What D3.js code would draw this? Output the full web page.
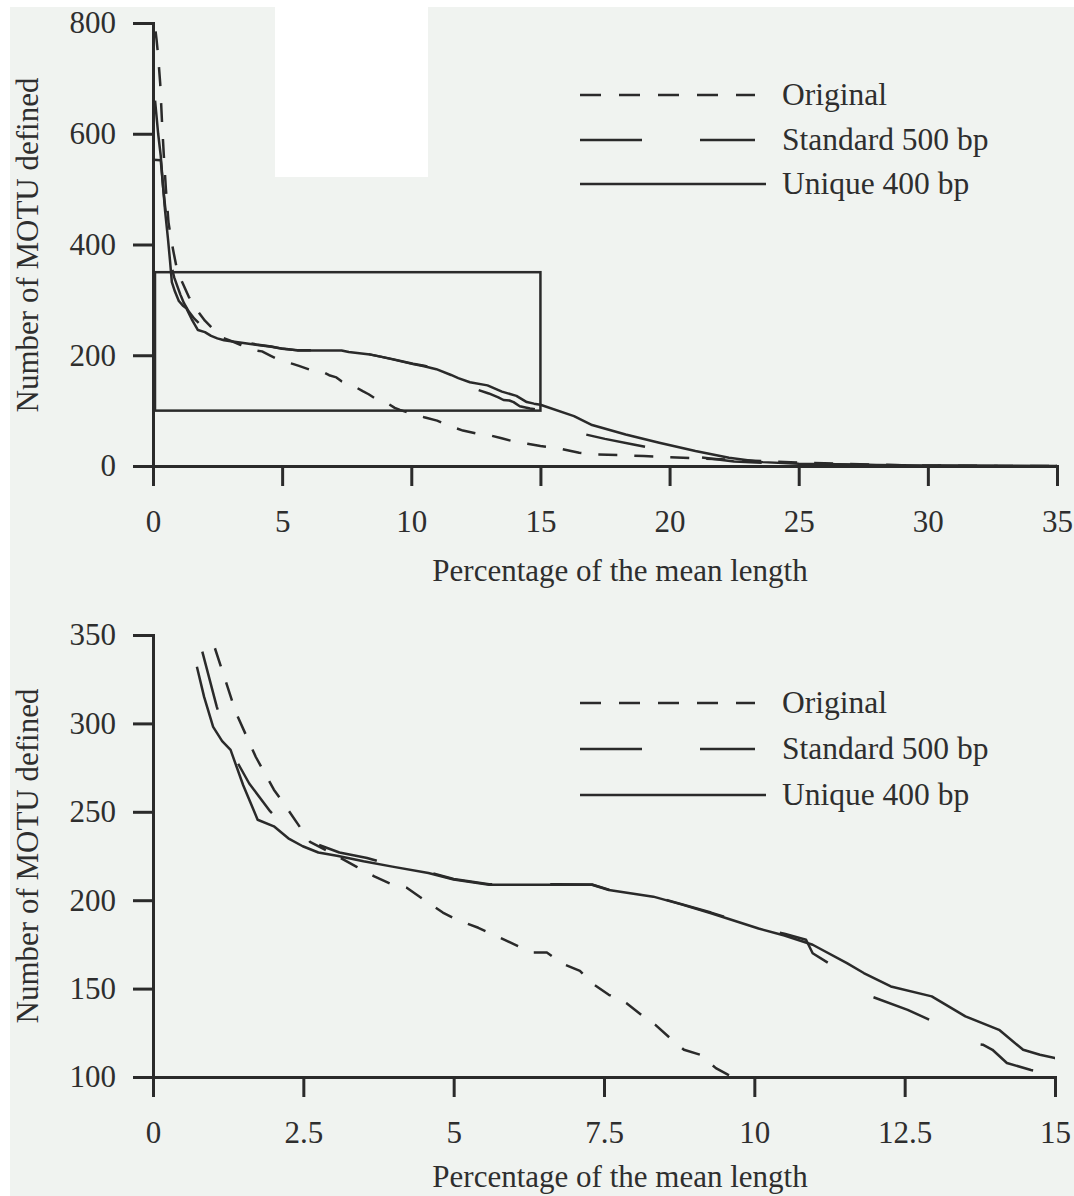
<!DOCTYPE html>
<html lang="en">
<head>
<meta charset="UTF-8" />
<title>MOTU</title>
<style>
  body { margin: 0; background: #fff; }
  svg text { font-family: "Liberation Serif", "Times New Roman", serif; fill: #2e2e2e; }
</style>
</head>
<body>
<div class="chart"></div>
<script src="https://d3js.org/d3.v7.min.js"></script>
<script>
// data: [percentage of the mean length, number of MOTU]
const seriesNames = ['Original', 'Standard 500 bp', 'Unique 400 bp']

const originalPts = [
  [0.1, 785], [0.14, 769], [0.2, 740], [0.28, 690], [0.35, 620], [0.42, 560], [0.5, 500],
  [0.6, 440], [0.7, 410], [0.8, 385], [0.9, 362], [1.03, 342.5], [1.15, 330], [1.38, 306],
  [1.71, 281], [2.01, 262.5], [2.19, 254], [2.61, 233], [2.97, 226.7], [3.38, 219],
  [3.68, 213.5], [3.98, 208.8], [4.22, 207], [4.58, 198.5], [4.82, 193], [5.05, 189],
  [5.41, 184.4], [5.65, 180.7], [6.07, 174], [6.31, 170.4], [6.55, 170.4], [6.82, 164],
  [7.1, 160], [7.3, 153], [7.58, 146.5], [7.87, 141.8], [8.12, 135.2], [8.35, 129.6],
  [8.6, 122], [8.83, 115.4], [9.1, 112.6], [9.36, 105], [9.56, 101.3], [9.9, 96],
  [10.5, 88], [11, 82], [11.5, 72], [12, 64], [12.5, 59], [13, 56], [13.5, 50], [14, 44],
  [14.5, 40], [15, 36], [15.7, 32], [16.5, 24], [17.1, 21], [18, 20], [19, 18], [20, 16],
  [21, 14], [22, 12], [23, 10], [24, 8], [25, 6], [26, 5], [27, 3.5], [28, 2.5],
  [29, 1.5], [30, 1], [31, 0.5], [33, 0], [35, 0]
]

const standardPts = [
  [0.0, 553], [0.3, 552], [0.4, 500], [0.5, 455], [0.62, 400], [0.72, 360], [0.82, 340.6],
  [1.06, 309.5], [1.2, 294], [1.38, 279.4], [1.6, 266], [1.95, 250.2], [2.3, 238],
  [2.67, 232.4], [3.1, 227], [3.56, 223.9], [4.0, 219.5], [4.58, 215.8], [5.0, 212],
  [5.59, 209], [6.72, 209], [7.3, 208.9], [7.58, 206], [8.32, 202.3], [9.28, 193],
  [10.07, 184.5], [10.5, 181], [10.86, 177.6], [10.97, 170], [11.3, 163], [11.7, 153],
  [11.87, 146.5], [12.55, 138], [13.0, 131], [13.37, 123.9], [13.57, 119.2], [13.8, 118.3],
  [13.96, 115.4], [14.2, 107.9], [14.6, 104], [15.0, 101], [16.46, 60], [17.5, 49],
  [18.6, 39], [20.8, 18], [22.5, 8], [24, 5], [26, 3], [28, 1.5], [30, 0.5], [32, 0], [35, 0]
]

const uniquePts = [
  [0.08, 660], [0.12, 640], [0.2, 600], [0.3, 560], [0.38, 510], [0.47, 460], [0.58, 410],
  [0.66, 370], [0.73, 332], [0.85, 315], [1.0, 298], [1.15, 290], [1.29, 285], [1.5, 265],
  [1.74, 245.5], [2.01, 241.8], [2.25, 235], [2.49, 230.5], [2.75, 227], [3.08, 225],
  [3.5, 222], [3.98, 219], [4.58, 215.4], [5.0, 211.7], [5.59, 208.8], [6.2, 208.8],
  [6.72, 208.8], [7.3, 208.7], [7.58, 205.8], [8.32, 202], [8.8, 197.5], [9.28, 192.6],
  [10.07, 184], [10.5, 180], [10.97, 174.8], [11.54, 164.4], [11.82, 158.8], [12.27, 151.2],
  [12.95, 145.6], [13.51, 134.3], [14.07, 126.7], [14.47, 115.4], [14.75, 112.6],
  [15.0, 110.7], [16.3, 90], [17, 74], [18.3, 57], [19.6, 42], [21, 27], [22.3, 15],
  [23.6, 7], [25, 4], [26.5, 3], [28, 2], [30, 1], [33, 0.3], [35, 0]
]

// first x value of each series plotted in the lower (zoomed) panel
const zoomStart = [1.03, 0.82, 0.73]

const topXTicks = [0, 5, 10, 15, 20, 25, 30, 35]
const topYTicks = [0, 200, 400, 600, 800]
const bottomXTicks = [0, 2.5, 5, 7.5, 10, 12.5, 15]
const bottomYTicks = [100, 150, 200, 250, 300, 350]

// the area of the upper panel shown in the lower one
const zoomBoxX = [0, 15]
const zoomBoxY = [100, 350]

const allSeries = [originalPts, standardPts, uniquePts]
const dashes = ['19,17', '60,58', null]
const ink = '#2a2a2a'

const svg = d3.select('.chart')
  .append('svg')
  .attr('width', 1074)
  .attr('height', 1196)

// scan background + white patch
svg.append('rect').attr('x', 10).attr('y', 7).attr('width', 1064).attr('height', 1189).attr('fill', '#f0f3f0')
svg.append('rect').attr('x', 275).attr('y', 0).attr('width', 153).attr('height', 177).attr('fill', '#fff')

const panels = [
  {
    id: 'top', xDomain: [0, 35], xRange: [153, 1057], yDomain: [0, 800], yRange: [466, 23],
    xTicks: topXTicks, yTicks: topYTicks, keep: () => true,
    legendY: [95, 140, 184], titleX: 620, titleY: 581, yTitleY: 245
  },
  {
    id: 'bottom', xDomain: [0, 15], xRange: [153, 1055], yDomain: [100, 350], yRange: [1077, 635],
    xTicks: bottomXTicks, yTicks: bottomYTicks, keep: (d, i) => d[0] >= zoomStart[i],
    legendY: [703, 749, 795], titleX: 620, titleY: 1187, yTitleY: 856
  }
]

const styleAxis = g => {
  g.selectAll('path, line').attr('stroke', ink).attr('stroke-width', 3)
  g.selectAll('text').attr('fill', ink).style('font-size', '31px')
    .style('font-family', '"Liberation Serif", "Times New Roman", serif')
}

panels.forEach(p => {
  const x = d3.scaleLinear().domain(p.xDomain).range(p.xRange)
  const y = d3.scaleLinear().domain(p.yDomain).range(p.yRange)

  svg.append('clipPath').attr('id', 'clip-' + p.id)
    .append('rect')
    .attr('x', p.xRange[0]).attr('y', p.yRange[1])
    .attr('width', p.xRange[1] - p.xRange[0])
    .attr('height', p.yRange[0] - p.yRange[1])

  // x axis
  svg.append('g')
    .attr('transform', `translate(0, ${p.yRange[0]})`)
    .call(d3.axisBottom(x).tickValues(p.xTicks).tickFormat(d => String(d)).tickSize(20).tickPadding(24))
    .call(styleAxis)

  // y axis
  svg.append('g')
    .attr('transform', `translate(${p.xRange[0]}, 0)`)
    .call(d3.axisLeft(y).tickValues(p.yTicks).tickFormat(d => String(d)).tickSize(20).tickPadding(17))
    .call(styleAxis)

  // zoom rectangle only on the upper panel
  if (p.id === 'top') {
    svg.append('rect')
      .attr('x', x(zoomBoxX[0]) + 2)
      .attr('y', y(zoomBoxY[1]))
      .attr('width', x(zoomBoxX[1]) - x(zoomBoxX[0]) - 2)
      .attr('height', y(zoomBoxY[0]) - y(zoomBoxY[1]))
      .attr('fill', 'none')
      .attr('stroke', ink)
      .attr('stroke-width', 2.5)
  }

  const line = d3.line().x(d => x(d[0])).y(d => y(d[1]))

  svg.append('g')
    .attr('clip-path', `url(#clip-${p.id})`)
    .selectAll('path')
    .data(allSeries.map((s, i) => s.filter(d => p.keep(d, i))))
    .join('path')
    .attr('d', line)
    .attr('fill', 'none')
    .attr('stroke', ink)
    .attr('stroke-width', 2.5)
    .attr('stroke-linejoin', 'round')
    .attr('stroke-dasharray', (d, i) => dashes[i])

  // legend
  const legend = svg.append('g')
  seriesNames.forEach((name, i) => {
    legend.append('line')
      .attr('x1', 580).attr('x2', i === 2 ? 766 : 755)
      .attr('y1', p.legendY[i]).attr('y2', p.legendY[i])
      .attr('stroke', ink).attr('stroke-width', 2.5)
      .attr('stroke-dasharray', i === 0 ? '21,18' : i === 1 ? '62,58' : null)
    legend.append('text')
      .attr('x', 782).attr('y', p.legendY[i])
      .attr('dy', '0.33em')
      .style('font-size', '31.5px')
      .text(name)
  })

  // axis titles
  svg.append('text')
    .attr('x', p.titleX).attr('y', p.titleY)
    .attr('text-anchor', 'middle')
    .style('font-size', '31px')
    .text('Percentage of the mean length')

  svg.append('text')
    .attr('transform', `translate(38, ${p.yTitleY}) rotate(-90)`)
    .attr('text-anchor', 'middle')
    .style('font-size', '31px')
    .text('Number of MOTU defined')
})
</script>
</body>
</html>
